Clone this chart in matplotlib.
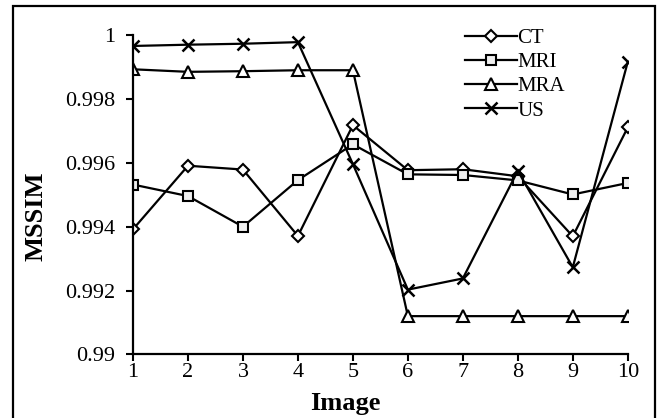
import matplotlib
matplotlib.use("Agg")
import matplotlib.pyplot as plt
from matplotlib.patches import Rectangle

plt.rcParams["font.family"] = ["Liberation Serif", "DejaVu Serif"]

# Imagen 1..10
images = list(range(1, 11))
ct = [0.99392, 0.99591, 0.99579, 0.99371, 0.99718, 0.99577, 0.99580, 0.99558, 0.99370, 0.99711]
mri = [0.99532, 0.99496, 0.99400, 0.99546, 0.99658, 0.99564, 0.99562, 0.99545, 0.99501, 0.99537]
mra = [0.99893, 0.99885, 0.99887, 0.99890, 0.99890, 0.99120, 0.99120, 0.99120, 0.99120, 0.99120]
us = [0.99966, 0.99970, 0.99973, 0.99978, 0.99596, 0.99203, 0.99238, 0.99575, 0.99273, 0.99916]
yticks = [0.99, 0.992, 0.994, 0.996, 0.998, 1]
ytick_labels = ["0.99", "0.992", "0.994", "0.996", "0.998", "1"]

fig = plt.figure(figsize=(6.65, 4.18), dpi=100)
ax = fig.add_axes([0.2, 0.152, 0.744, 0.764])

lw = 1.6
ax.plot(images, ct, color="black", lw=lw, marker="D", ms=6.3, mfc="white", mec="black", mew=1.5, label="CT")
ax.plot(images, mri, color="black", lw=lw, marker="s", ms=7.5, mfc="#efefef", mec="black", mew=1.5, label="MRI")
ax.plot(images, mra, color="black", lw=lw, marker="^", ms=8, mfc="white", mec="black", mew=1.5, label="MRA")
ax.plot(images, us, color="black", lw=lw, marker="x", ms=8, mec="black", mew=1.8, label="US")

ax.set_xlim(1, 10)
ax.set_ylim(0.99, 1.0)
ax.set_xticks(images)
ax.set_yticks(yticks)
ax.set_yticklabels(ytick_labels)
ax.tick_params(axis="both", labelsize=16, width=1.5, length=5, direction="out", pad=1)
ax.tick_params(axis="y", pad=8)

for side in ["top", "right"]:
    ax.spines[side].set_visible(False)
for side in ["left", "bottom"]:
    ax.spines[side].set_linewidth(1.6)
for spine in ax.spines.values():
    spine.set_clip_on(False)

ax.set_xlabel("Image", fontsize=19, fontweight="bold")
ax.set_ylabel("MSSIM", fontsize=19, fontweight="bold")
ax.xaxis.set_label_coords(0.43, -0.153)
ax.yaxis.set_label_coords(-0.196, 0.433)
ax.xaxis.label.set_va("center")
ax.yaxis.label.set_va("center")

leg = ax.legend(loc="upper right", bbox_to_anchor=(0.89, 1.047), frameon=False, fontsize=15,
                handlelength=2.5, handletextpad=0.0, labelspacing=0.22, borderaxespad=0.0)

# marco exterior
fig.patches.append(Rectangle((0.02, -0.05), 0.965, 1.036, transform=fig.transFigure,
                             fill=False, edgecolor="black", lw=1.6))

plt.savefig("out.png", dpi=100)
plt.close()
